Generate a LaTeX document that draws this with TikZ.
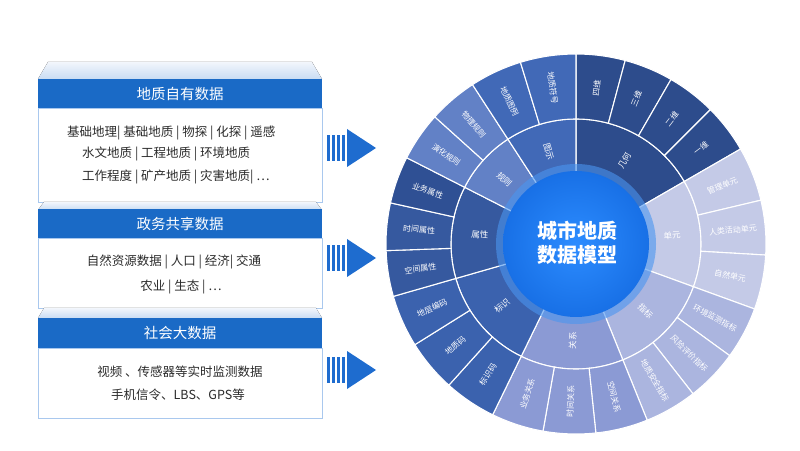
\documentclass[tikz,border=0pt]{standalone}
\usepackage{fontspec}
\setmainfont{Noto Sans CJK SC}
\usetikzlibrary{positioning, calc}
\definecolor{headBlue}{HTML}{1A6AC6}
\definecolor{edgeBlue}{HTML}{A9C8EE}
\definecolor{trapTop}{HTML}{F2F6FC}
\definecolor{trapBot}{HTML}{C9DCF3}
\definecolor{bodyGray}{HTML}{2B2B2B}
\definecolor{arrowBlue}{HTML}{1E6CCF}
\definecolor{geomC}{HTML}{2D4C8C}
\definecolor{unitC}{HTML}{C4CAE7}
\definecolor{indexC}{HTML}{ABB5DF}
\definecolor{relC}{HTML}{8B9AD4}
\definecolor{identC}{HTML}{3B62AE}
\definecolor{attrC}{HTML}{36599F}
\definecolor{attrDark}{HTML}{2F5094}
\definecolor{ruleC}{HTML}{6281C6}
\definecolor{iconC}{HTML}{4169B7}
\definecolor{coreLight}{HTML}{2C8CFF}
\definecolor{coreBlue}{HTML}{1870E6}
\definecolor{coreGlow}{HTML}{4A95F0}

\tikzset{
  headbar/.style={fill=headBlue, text=white, minimum width=284pt, minimum height=29pt,
    inner sep=0pt, font=\fontsize{14.5}{16}\selectfont},
  bodybox/.style={draw=edgeBlue, fill=white, line width=0.8pt, minimum width=284pt, inner sep=0pt},
  bodytext/.style={text=bodyGray, font=\fontsize{12.5}{14}\selectfont, inner sep=0pt},
  sunlabel/.style={text=white, font=\fontsize{8}{9}\selectfont, inner sep=0pt},
  hublabel/.style={text=white, font=\fontsize{8.5}{10}\selectfont, inner sep=0pt},
  centertext/.style={text=white, font=\fontsize{20}{24}\selectfont\bfseries, align=center}
}

% one ring sector: start, end, inner r, outer r, colour, label, label style
\newcommand{\sunsector}[7]{%
  \fill[#5, draw=white, line width=1.1pt] (#1:#3) -- (#1:#4)
    arc[start angle=#1, end angle=#2, radius=#4pt] -- (#2:#3)
    arc[start angle=#2, end angle=#1, radius=#3pt] -- cycle;
  \pgfmathsetmacro{\midang}{(#1+#2)/2}
  \pgfmathsetmacro{\midrad}{(#3+#4)/2}
  \pgfmathsetmacro{\rotang}{cos(\midang)<-0.001 ? \midang-180 : \midang}
  \node[#7, rotate=\rotang] at (\midang:\midrad) {#6};
}

% striped arrow pointing right, centred at height #1
\newcommand{\feedarrow}[1]{%
  \foreach \bx in {327,332,337,342}
    \fill[arrowBlue] (\bx,#1-13) rectangle (\bx+3.2,#1+13);
  \fill[arrowBlue] (347,#1-19) -- (376,#1) -- (347,#1+19) -- cycle;
}

\begin{document}
\begin{tikzpicture}[x=1pt, y=1pt]
  \useasboundingbox (0,0) rectangle (800,450);

  % card 1
  \fill[top color=trapTop, bottom color=trapBot] (48,388) -- (312,388) -- (322,371) -- (38,371) -- cycle;
  \node[bodybox, minimum height=94pt] (body1) at (180,295) {};
  \node[headbar] (head1) at (180,356.5) {地质自有数据};
  \node[bodytext, anchor=west] (own1) at (67,317) {基础地理| 基础地质 | 物探 | 化探 | 遥感};
  \node[bodytext, anchor=west] (own2) at (82,296) {水文地质 | 工程地质 | 环境地质};
  \node[bodytext, anchor=west] (own3) at (82,273) {工作程度 | 矿产地质 | 灾害地质| …};

  % card 2
  \fill[top color=trapTop, bottom color=trapBot] (44,248) -- (316,248) -- (322,240) -- (38,240) -- cycle;
  \node[bodybox, minimum height=70pt] (body2) at (180,177) {};
  \node[headbar] (head2) at (180,226) {政务共享数据};
  \node[bodytext] (gov1) at (174,188) {自然资源数据 | 人口 | 经济| 交通};
  \node[bodytext] (gov2) at (181,163) {农业 | 生态 | …};

  % card 3
  \fill[top color=trapTop, bottom color=trapBot] (44,142) -- (316,142) -- (322,132) -- (38,132) -- cycle;
  \node[bodybox, minimum height=70pt] (body3) at (180,67) {};
  \node[headbar] (head3) at (180,117) {社会大数据};
  \node[bodytext] (soc1) at (180,78) {视频 、传感器等实时监测数据};
  \node[bodytext] (soc2) at (178,55) {手机信令、LBS、GPS等};

  % arrows into the model
  \feedarrow{302}
  \feedarrow{192}
  \feedarrow{80}

  % sunburst
  \begin{scope}[shift={(576,206)}]
    % inner ring
    \sunsector{30}{90}{68}{125}{geomC}{几何}{hublabel}
    \sunsector{-20}{30}{68}{125}{unitC}{单元}{hublabel}
    \sunsector{-68}{-20}{68}{125}{indexC}{指标}{hublabel}
    \sunsector{-116}{-68}{68}{125}{relC}{关系}{hublabel}
    \sunsector{-164}{-116}{68}{125}{identC}{标识}{hublabel}
    \sunsector{153}{196}{68}{125}{attrC}{属性}{hublabel}
    \sunsector{123}{153}{68}{125}{ruleC}{规则}{hublabel}
    \sunsector{90}{123}{68}{125}{iconC}{图示}{hublabel}

    % outer ring
    \sunsector{75}{90}{125}{190}{geomC}{四维}{sunlabel}
    \sunsector{60}{75}{125}{190}{geomC}{三维}{sunlabel}
    \sunsector{45}{60}{125}{190}{geomC}{二维}{sunlabel}
    \sunsector{30}{45}{125}{190}{geomC}{一维}{sunlabel}
    \sunsector{13.33}{30}{125}{190}{unitC}{管理单元}{sunlabel}
    \sunsector{-3.33}{13.33}{125}{190}{unitC}{人类活动单元}{sunlabel}
    \sunsector{-20}{-3.33}{125}{190}{unitC}{自然单元}{sunlabel}
    \sunsector{-36}{-20}{125}{190}{indexC}{环境监测指标}{sunlabel}
    \sunsector{-52}{-36}{125}{190}{indexC}{风险评价指标}{sunlabel}
    \sunsector{-68}{-52}{125}{190}{indexC}{地质安全指标}{sunlabel}
    \sunsector{-84}{-68}{125}{190}{relC}{空间关系}{sunlabel}
    \sunsector{-100}{-84}{125}{190}{relC}{时间关系}{sunlabel}
    \sunsector{-116}{-100}{125}{190}{relC}{业务关系}{sunlabel}
    \sunsector{-132}{-116}{125}{190}{identC}{标识码}{sunlabel}
    \sunsector{-148}{-132}{125}{190}{identC}{地质码}{sunlabel}
    \sunsector{-164}{-148}{125}{190}{identC}{地层编码}{sunlabel}
    \sunsector{182}{196}{125}{190}{attrC}{空间属性}{sunlabel}
    \sunsector{167.5}{182}{125}{190}{attrC}{时间属性}{sunlabel}
    \sunsector{153}{167.5}{125}{190}{attrDark}{业务属性}{sunlabel}
    \sunsector{138}{153}{125}{190}{ruleC}{演化规则}{sunlabel}
    \sunsector{123}{138}{125}{190}{ruleC}{物理规则}{sunlabel}
    \sunsector{107}{123}{125}{190}{iconC}{地质图例}{sunlabel}
    \sunsector{90}{107}{125}{190}{iconC}{地质符号}{sunlabel}

    % core disk
    \fill[coreGlow, opacity=0.6] (0,0) circle[radius=80pt];
    \shade[inner color=coreLight, outer color=coreBlue] (0,0) circle[radius=73pt];
    \node[centertext] (core) at (1,1) {城市地质\\数据模型};
  \end{scope}
\end{tikzpicture}
\end{document}
